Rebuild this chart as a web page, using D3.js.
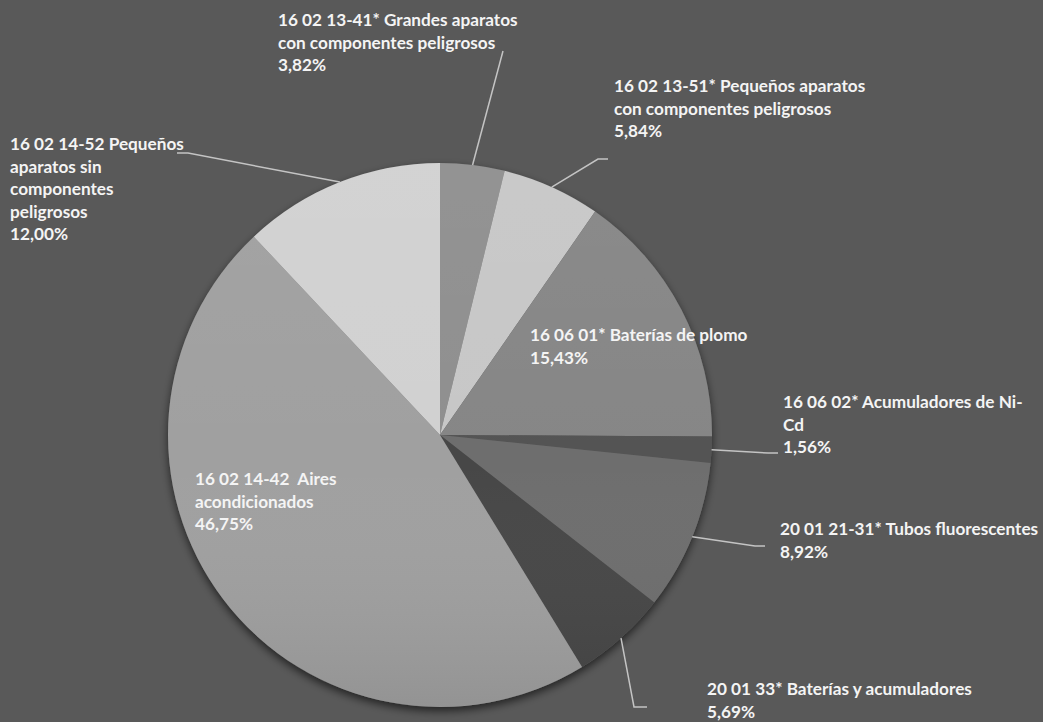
<!DOCTYPE html>
<html>
<head>
<meta charset="utf-8">
<script src="https://cdn.jsdelivr.net/npm/d3@7"></script>
<style>
  html, body { margin: 0; padding: 0; background: #595959; }
  svg { display: block; }
  .lbl { font-family: Lato, "Open Sans", sans-serif; font-weight: 700; font-size: 17.2px; fill: #f4f4f4; white-space: pre; }
  .leader { fill: none; stroke: #c4c4c4; stroke-width: 1.5; }
</style>
</head>
<body>
<script>
// DATA
const codes = ["16 02 13-41*", "16 02 13-51*", "16 06 01*", "16 06 02*", "20 01 21-31*", "20 01 33*", "16 02 14-42", "16 02 14-52"];
const names = ["Grandes aparatos con componentes peligrosos", "Pequeños aparatos con componentes peligrosos",
  "Baterías de plomo", "Acumuladores de Ni-Cd", "Tubos fluorescentes", "Baterías y acumuladores",
  "Aires acondicionados", "Pequeños aparatos sin componentes peligrosos"];
const shares = [3.82, 5.84, 15.43, 1.56, 8.92, 5.69, 46.75, 12.00];
const labelLines = [
  ["16 02 13-41* Grandes aparatos", "con componentes peligrosos", "3,82%"],
  ["16 02 13-51* Pequeños aparatos", "con componentes peligrosos", "5,84%"],
  ["16 06 01* Baterías de plomo", "15,43%"],
  ["16 06 02* Acumuladores de Ni-", "Cd", "1,56%"],
  ["20 01 21-31* Tubos fluorescentes", "8,92%"],
  ["20 01 33* Baterías y acumuladores", "5,69%"],
  ["16 02 14-42  Aires", "acondicionados", "46,75%"],
  ["16 02 14-52 Pequeños", "aparatos sin", "componentes", "peligrosos", "12,00%"]
];
const sliceColors = ["#8f8f8f", "#c7c7c7", "#868686", "#545454", "#6e6e6e", "#474747", "#a0a0a0", "#d1d1d1"];

// LAYOUT (label anchor + leader elbow)
const labelPos = [
  {x: 278, y: 26, leader: [[503, 51]]},
  {x: 614, y: 92, leader: [[598, 159], [608, 159]]},
  {x: 530, y: 341, leader: null},
  {x: 783, y: 408, leader: [[768, 453], [778, 453]]},
  {x: 780, y: 535, leader: [[755, 546], [765, 546]]},
  {x: 707, y: 695, leader: [[634, 707], [647, 707]]},
  {x: 195, y: 485, leader: null},
  {x: 10, y: 150, leader: [[188, 153], [177, 153]]}
];

const width = 1043, height = 722;
const cx = 440, cy = 435, radius = 272;
const lineH = 22.6;

const data = shares.map((v, i) => ({code: codes[i], name: names[i], value: v, i: i}));

const svg = d3.select("body").append("svg")
  .attr("width", width)
  .attr("height", height);

const defs = svg.append("defs");
const shadow = defs.append("filter").attr("id", "shadow")
  .attr("x", "-10%").attr("y", "-10%").attr("width", "120%").attr("height", "120%");
shadow.append("feDropShadow").attr("dx", 0).attr("dy", 4).attr("stdDeviation", 4)
  .attr("flood-color", "#000").attr("flood-opacity", 0.6);

const grad = defs.append("linearGradient").attr("id", "shade")
  .attr("x1", 0).attr("y1", 0).attr("x2", 0).attr("y2", 1);
grad.append("stop").attr("offset", "0%").attr("stop-color", "#fff").attr("stop-opacity", 0.04);
grad.append("stop").attr("offset", "55%").attr("stop-color", "#fff").attr("stop-opacity", 0);
grad.append("stop").attr("offset", "100%").attr("stop-color", "#000").attr("stop-opacity", 0.08);

const pie = d3.pie().value(d => d.value).sort(null);
const arc = d3.arc().innerRadius(0).outerRadius(radius);
const arcs = pie(data);

const g = svg.append("g").attr("transform", `translate(${cx},${cy})`);

// shadow under the whole pie
g.append("circle").attr("r", radius).attr("fill", "#595959").attr("filter", "url(#shadow)");

g.selectAll("path.slice")
  .data(arcs)
  .join("path")
  .attr("class", "slice")
  .attr("d", arc)
  .attr("fill", d => sliceColors[d.data.i]);

g.append("circle").attr("r", radius).attr("fill", "url(#shade)");

// leader lines: start at the slice's outer edge, mid angle
arcs.forEach(d => {
  const p = labelPos[d.data.i];
  if (!p.leader) return;
  const mid = (d.startAngle + d.endAngle) / 2;
  const start = [cx + radius * Math.sin(mid), cy - radius * Math.cos(mid)];
  svg.append("path")
    .attr("class", "leader")
    .attr("d", d3.line()([start, ...p.leader]));
});

// labels
const labels = svg.selectAll("text.lbl")
  .data(data)
  .join("text")
  .attr("class", "lbl")
  .attr("x", d => labelPos[d.i].x)
  .attr("y", d => labelPos[d.i].y);

labels.selectAll("tspan")
  .data(d => labelLines[d.i].map(t => ({t: t, x: labelPos[d.i].x})))
  .join("tspan")
  .attr("x", d => d.x)
  .attr("dy", (d, j) => j === 0 ? 0 : lineH)
  .text(d => d.t);
</script>
</body>
</html>
